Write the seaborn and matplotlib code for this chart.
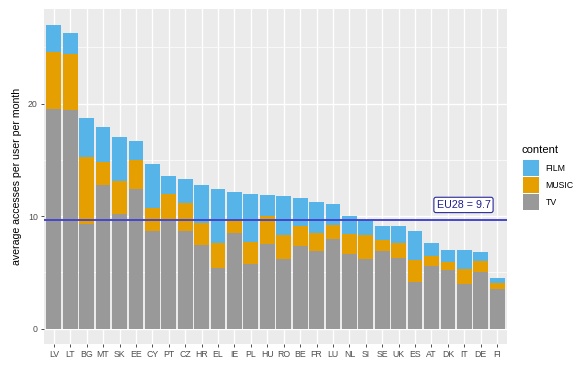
import matplotlib
matplotlib.use("Agg")
import matplotlib.pyplot as plt
import seaborn as sns
import pandas as pd
import numpy as np
from matplotlib.patches import Patch
from matplotlib.ticker import MultipleLocator

countries = ["LV", "LT", "BG", "MT", "SK", "EE", "CY", "PT", "CZ", "HR", "EL", "IE", "PL", "HU",
             "RO", "BE", "FR", "LU", "NL", "SI", "SE", "UK", "ES", "AT", "DK", "IT", "DE", "FI"]
tv = [19.5, 19.4, 9.3, 12.8, 10.2, 12.4, 8.7, 9.7, 8.7, 7.4, 5.4, 8.5, 5.75, 7.5,
      6.2, 7.35, 6.9, 8.0, 6.6, 6.2, 6.9, 6.3, 4.2, 5.6, 5.2, 3.95, 5.05, 3.55]
music = [5.1, 5.0, 6.0, 2.0, 2.9, 2.6, 2.0, 2.3, 2.5, 2.0, 2.2, 1.2, 1.95, 2.5,
         2.1, 1.75, 1.65, 1.25, 1.85, 2.1, 0.95, 1.3, 1.9, 0.85, 0.75, 1.35, 1.0, 0.55]
film = [2.4, 1.9, 3.4, 3.1, 3.9, 1.7, 3.9, 1.6, 2.1, 3.4, 4.8, 2.45, 4.3, 1.9,
        3.5, 2.55, 2.75, 1.8, 1.6, 1.35, 1.3, 1.55, 2.6, 1.15, 1.05, 1.7, 0.8, 0.45]
eu28 = 9.7
content_labels = ["FILM", "MUSIC", "TV"]
colors = {"FILM": "#56B4E9", "MUSIC": "#E69F00", "TV": "#999999"}

df = pd.DataFrame({"country": countries, "TV": tv, "MUSIC": music, "FILM": film})
df["tv_top"] = df["TV"]
df["music_top"] = df["TV"] + df["MUSIC"]
df["film_top"] = df["music_top"] + df["FILM"]

plt.rcParams["font.family"] = ["Liberation Sans", "DejaVu Sans"]

fig = plt.figure(figsize=(5.84, 3.72), dpi=100)
ax = fig.add_axes([44/584, 1-344/372, (507-44)/584, (344-9)/372])
ax.set_facecolor("#EBEBEB")

for col, key in [("film_top", "FILM"), ("music_top", "MUSIC"), ("tv_top", "TV")]:
    sns.barplot(data=df, x="country", y=col, order=countries, color=colors[key],
                saturation=1, width=0.9, ax=ax, errorbar=None, zorder=2)

ax.axhline(eu28, color="#4646cc", lw=1.4, zorder=3)
ax.text(24.95, 11.0, f"EU28 = {eu28}", ha="center", va="center", fontsize=7.7,
        color="#1f1f8f", zorder=4,
        bbox=dict(boxstyle="round,pad=0.25,rounding_size=0.2", fc="white", ec="#2a2a9a", lw=0.8))

ax.set_xlim(-0.6, len(countries) - 0.4)
ax.set_ylim(-1.35, 28.4)
ax.yaxis.set_major_locator(MultipleLocator(10))
ax.yaxis.set_minor_locator(MultipleLocator(5))
ax.grid(which="major", color="white", lw=1.0, zorder=0)
ax.grid(which="minor", axis="y", color="white", lw=0.5, zorder=0)
ax.set_axisbelow(True)
for s in ax.spines.values():
    s.set_visible(False)
ax.tick_params(axis="both", which="major", length=2.5, width=0.6, color="#333333",
               labelcolor="#4D4D4D", labelsize=6.3, pad=2)
ax.tick_params(axis="y", which="minor", length=0)
ax.set_xlabel("")
ax.set_ylabel("average accesses per user per month", fontsize=7.6, color="black", labelpad=4)

fig.text(522/584, 1-150/372, "content", ha="left", va="center", fontsize=8.1)
handles = [Patch(facecolor=colors[k], edgecolor="none", label=k) for k in content_labels]
leg = fig.legend(handles=handles, loc="upper left",
                 bbox_to_anchor=(523/584, 1-160/372), frameon=False,
                 fontsize=6.3, handlelength=1.85, handleheight=2.44,
                 labelspacing=0.12, handletextpad=0.75, borderpad=0.0, borderaxespad=0.0)

fig.savefig("out.png", dpi=100)
